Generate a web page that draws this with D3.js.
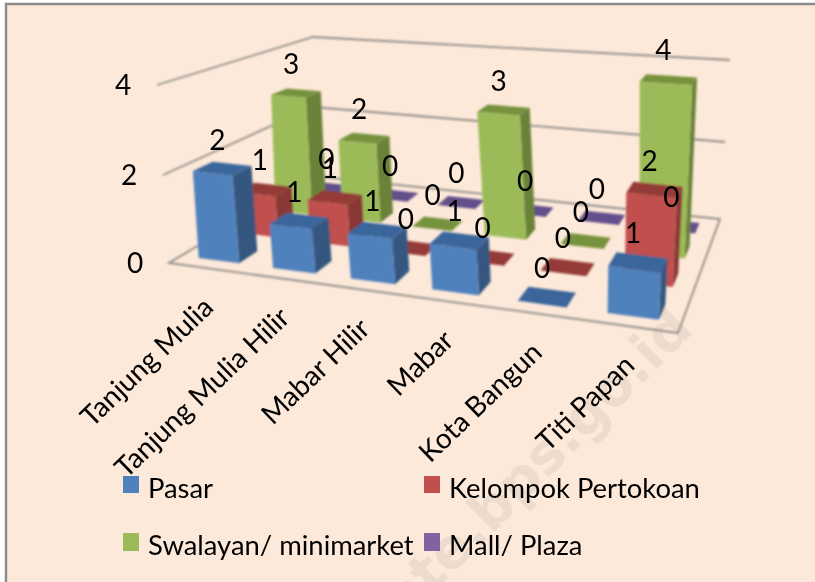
<!DOCTYPE html>
<html>
<head>
<meta charset="utf-8">
<script src="https://cdnjs.cloudflare.com/ajax/libs/d3/7.8.5/d3.min.js"></script>
<style>
  html, body { margin: 0; padding: 0; background: #fff; }
  text { font-family: Lato, "Open Sans", sans-serif; fill: #000; }
</style>
</head>
<body>
<script>
var width = 815;
var height = 582;

var categories = ["Tanjung Mulia", "Tanjung Mulia Hilir", "Mabar Hilir", "Mabar", "Kota Bangun", "Titi Papan"];
var seriesNames = ["Pasar", "Kelompok Pertokoan", "Swalayan/ minimarket", "Mall/ Plaza"];
var pasar = [2, 1, 1, 1, 0, 1];
var kelompok = [1, 1, 0, 0, 0, 2];
var swalayan = [3, 2, 0, 3, 0, 4];
var mall = [0, 0, 0, 0, 0, 0];
var seriesValues = [pasar, kelompok, swalayan, mall];
var yTicks = [0, 2, 4];

var frontColors = ["#4f81bd", "#c0504d", "#9bbb59", "#8064a2"];
var sideColors = ["#34567f", "#8a3836", "#6b8239", "#5a4675"];
var topColors = ["#3a669c", "#943a38", "#76923c", "#644f8c"];

var svg = d3.select("body").append("svg")
  .attr("width", width)
  .attr("height", height)
  .style("display", "block");

var defs = svg.append("defs");
defs.append("filter").attr("id", "soft")
  .append("feGaussianBlur").attr("stdDeviation", 0.8);
defs.append("filter").attr("id", "softText")
  .append("feGaussianBlur").attr("stdDeviation", 0.35);

// background and the two visible border edges
svg.append("rect").attr("x", 6).attr("y", 4).attr("width", width - 6).attr("height", height - 4).attr("fill", "#fde9d9");
svg.append("path").attr("d", "M6,582V4H815").attr("fill", "none").attr("stroke", "#8c8c8c").attr("stroke-width", 2.4);

// watermark
svg.append("text")
  .attr("transform", "translate(695,331) rotate(-45)")
  .attr("text-anchor", "end")
  .attr("font-size", 55)
  .attr("font-weight", 700)
  .style("font-family", "'DejaVu Sans'")
  .style("fill", "#eddccd")
  .text("ote.bps.go.id");

// floor/wall corners of the 3d box at each gridline level
var corner = function(xs, ys) {
  return {
    x: d3.scaleLinear().domain(yTicks).range(xs),
    y: d3.scaleLinear().domain(yTicks).range(ys)
  };
};
var frontLeft = corner([169, 163, 157], [263, 175, 85]);
var frontRight = corner([678, 684, 690], [333, 237, 137]);
var backRight = corner([720, 725, 730], [219, 142, 60]);
var backLeft = corner([314, 313, 313], [176, 107, 37]);

// square to quad perspective mapping (u along categories, v going back)
function project(u, v, h) {
  var x0 = frontLeft.x(h), y0 = frontLeft.y(h);
  var x1 = frontRight.x(h), y1 = frontRight.y(h);
  var x2 = backRight.x(h), y2 = backRight.y(h);
  var x3 = backLeft.x(h), y3 = backLeft.y(h);
  var sx = x0 - x1 + x2 - x3, sy = y0 - y1 + y2 - y3;
  var dx1 = x1 - x2, dx2 = x3 - x2, dy1 = y1 - y2, dy2 = y3 - y2;
  var det = dx1 * dy2 - dx2 * dy1;
  var g = (sx * dy2 - dx2 * sy) / det;
  var k = (dx1 * sy - sx * dy1) / det;
  var w = g * u + k * v + 1;
  return [
    ((x1 - x0 + g * x1) * u + (x3 - x0 + k * x3) * v + x0) / w,
    ((y1 - y0 + g * y1) * u + (y3 - y0 + k * y3) * v + y0) / w
  ];
}

var uScale = d3.scaleBand().domain(categories).range([0, 1]).paddingInner(0.45).paddingOuter(0.24);
var vScale = d3.scaleBand().domain(seriesNames).range([0, 1]).paddingInner(0.55).paddingOuter(0.275);
var polygon = d3.line();

var chart = svg.append("g").attr("filter", "url(#soft)");

// gridlines on the walls
yTicks.forEach(function(t) {
  var pts = [project(0, 0, t), project(0, 1, t), project(1, 1, t)];
  if (t === 0) pts = [project(1, 0, t), project(0, 0, t), project(0, 1, t), project(1, 1, t), project(1, 0, t)];
  chart.append("path")
    .attr("d", polygon(pts))
    .attr("fill", "none")
    .attr("stroke", "#8f8c88")
    .attr("stroke-width", 1.8);
});

// bars, back row first and right to left inside a row
d3.range(seriesNames.length - 1, -1, -1).forEach(function(s) {
  var v0 = vScale(seriesNames[s]), v1 = v0 + vScale.bandwidth();
  d3.range(categories.length - 1, -1, -1).forEach(function(c) {
    var u0 = uScale(categories[c]), u1 = u0 + uScale.bandwidth();
    var h = seriesValues[s][c];
    var g = chart.append("g").attr("class", "bar");
    if (h > 0) {
      g.append("path")
        .attr("d", polygon([project(u1, v0, 0), project(u1, v1, 0), project(u1, v1, h), project(u1, v0, h)]) + "Z")
        .attr("fill", sideColors[s]);
      g.append("path")
        .attr("d", polygon([project(u0, v0, 0), project(u1, v0, 0), project(u1, v0, h), project(u0, v0, h)]) + "Z")
        .attr("fill", frontColors[s]);
    }
    g.append("path")
      .attr("d", polygon([project(u0, v0, h), project(u1, v0, h), project(u1, v1, h), project(u0, v1, h)]) + "Z")
      .attr("fill", topColors[s]);
  });
});

var labels = svg.append("g").attr("filter", "url(#softText)");

// value labels
seriesNames.forEach(function(name, s) {
  seriesValues[s].forEach(function(val, c) {
    var p = project(uScale(categories[c]) + uScale.bandwidth() / 2, vScale(name) + vScale.bandwidth() / 2, val);
    labels.append("text")
      .attr("x", p[0] - 5)
      .attr("y", p[1] - 19)
      .attr("text-anchor", "middle")
      .attr("font-size", 28)
      .text(val);
  });
});

// value axis labels
yTicks.forEach(function(t) {
  var p = project(0, 0, t);
  labels.append("text")
    .attr("x", p[0] - 34)
    .attr("y", p[1] + 10)
    .attr("text-anchor", "middle")
    .attr("font-size", 28)
    .text(t);
});

// category labels
categories.forEach(function(name, c) {
  var p = project(uScale(name) + uScale.bandwidth() / 2, 0, 0);
  labels.append("text")
    .attr("transform", "translate(" + (p[0] + 8) + "," + (p[1] + 41) + ") rotate(-44)")
    .attr("text-anchor", "end")
    .attr("font-size", 28)
    .text(name);
});

// legend
var legendX = d3.scaleOrdinal().domain([0, 1]).range([123, 424]);
var legendY = d3.scaleOrdinal().domain([0, 1]).range([476, 533]);
seriesNames.forEach(function(name, s) {
  var lx = legendX(s % 2), ly = legendY(Math.floor(s / 2));
  svg.append("rect")
    .attr("x", lx)
    .attr("y", ly)
    .attr("width", 16)
    .attr("height", s < 2 ? 17 : 18)
    .attr("fill", frontColors[s]);
  labels.append("text")
    .attr("x", lx + 25)
    .attr("y", ly + 22)
    .attr("font-size", 27.4)
    .text(name);
});
</script>
</body>
</html>
